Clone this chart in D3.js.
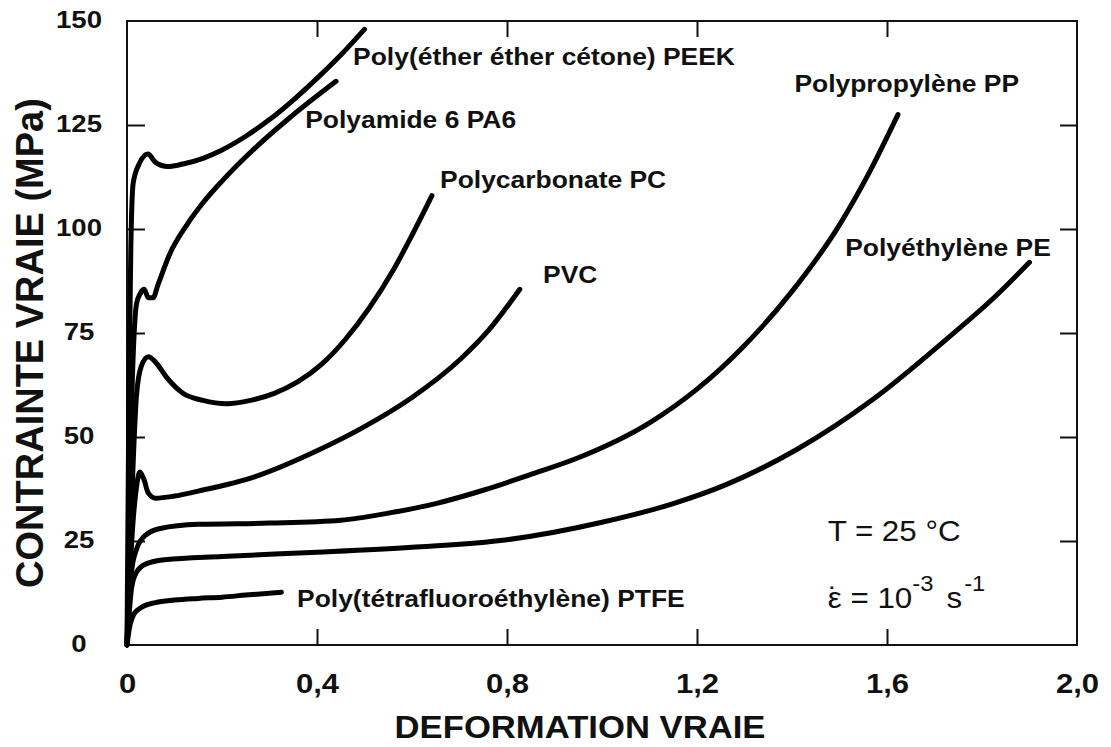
<!DOCTYPE html>
<html><head><meta charset="utf-8">
<script src="https://cdn.jsdelivr.net/npm/d3@7"></script>
<style>html,body{margin:0;padding:0;background:#fff;} svg{display:block;}</style>
</head><body>
<svg id="chart" width="1111" height="747"></svg>
<script>
// ---- tick values / labels ----
const xTickValues = [0, 0.4, 0.8, 1.2, 1.6, 2.0];
const xTickLabels = ["0", "0,4", "0,8", "1,2", "1,6", "2,0"];
const yTickValues = [0, 25, 50, 75, 100, 125, 150];
const yTickLabels = ["0", "25", "50", "75", "100", "125", "150"];

// ---- series: [true strain, true stress (MPa)] ----
const PEEK = [[0,0],[0.004,60],[0.008,95],[0.013,111],[0.025,115.5],[0.044,118],[0.06,116],[0.086,115],[0.12,115.7],[0.16,117],[0.2,119],[0.25,122.3],[0.3,126.3],[0.35,131],[0.4,136.2],[0.45,141.8],[0.5,148]];
const PA6 = [[0,0],[0.008,50],[0.02,82],[0.028,84.5],[0.036,85.5],[0.045,83.5],[0.055,83.5],[0.065,86.5],[0.09,94],[0.126,101],[0.16,106.3],[0.2,111.5],[0.27,119.5],[0.34,126.5],[0.44,135.5]];
const PC = [[0,0],[0.01,35],[0.02,60],[0.03,67],[0.045,69.3],[0.06,68],[0.083,64.4],[0.118,60.5],[0.16,58.8],[0.21,58],[0.26,58.8],[0.31,60.5],[0.36,63.3],[0.41,67.5],[0.46,73.5],[0.51,81],[0.56,90],[0.6,98.5],[0.642,108]];
const PVC = [[0,0],[0.01,25],[0.02,38],[0.027,41.6],[0.035,40],[0.045,36.5],[0.06,35.3],[0.1,35.8],[0.15,37],[0.27,40.5],[0.4,46.7],[0.5,52.5],[0.6,59.5],[0.7,68.5],[0.76,75.5],[0.827,85.5]];
const PP = [[0,0],[0.01,18],[0.02,23],[0.04,26.5],[0.07,28],[0.15,29],[0.3,29.3],[0.45,30],[0.55,31.7],[0.65,34],[0.75,37.2],[0.85,41],[0.95,45],[1.1,53.4],[1.2,61.5],[1.3,72],[1.4,85],[1.5,101],[1.56,113],[1.623,127.5]];
const PE = [[0,0],[0.01,14],[0.02,17.5],[0.04,19.5],[0.08,20.5],[0.2,21.3],[0.4,22.3],[0.6,23.5],[0.8,25.3],[1.0,29.5],[1.15,34],[1.26,38.5],[1.41,47],[1.57,59],[1.72,73],[1.83,84],[1.9,92]];
const PTFE = [[0,0],[0.005,4],[0.015,7.5],[0.03,9],[0.06,10.2],[0.1,10.8],[0.15,11.2],[0.2,11.5],[0.25,12],[0.325,12.7]];

const seriesList = [PEEK, PA6, PC, PVC, PP, PE, PTFE];
const seriesNames = ["Poly(éther éther cétone) PEEK", "Polyamide 6 PA6", "Polycarbonate PC", "PVC",
                     "Polypropylène PP", "Polyéthylène PE", "Poly(tétrafluoroéthylène) PTFE"];
// label anchor (left, baseline) in data units
const labelAnchors = [[0.476,139.4],[0.375,124.3],[0.659,109.9],[0.876,87],[1.405,132.9],[1.512,93.6],[0.358,9.1]];

const xTitle = "DEFORMATION VRAIE";
const yTitle = "CONTRAINTE VRAIE (MPa)";

// ---- layout ----
const W = 1111, H = 747;
const m = {left: 127, right: 34, top: 21, bottom: 102};
const SX = 1.15; // horizontal stretch of the original lettering
const FONT = "'Liberation Sans', Arial, Helvetica, sans-serif";

const svg = d3.select("#chart");
const x = d3.scaleLinear().domain([0, 2]).range([m.left, W - m.right]);
const y = d3.scaleLinear().domain([0, 150]).range([H - m.bottom, m.top]);

// frame
svg.append("rect").attr("x", x(0)).attr("y", y(150))
  .attr("width", x(2) - x(0)).attr("height", y(0) - y(150))
  .attr("fill", "none").attr("stroke", "#111").attr("stroke-width", 2);

const inner = [0.4, 0.8, 1.2, 1.6];
const innerY = [25, 50, 75, 100, 125];
const TL = 16;

// bottom axis with labels
const gB = svg.append("g").attr("transform", `translate(0,${y(0)})`)
  .call(d3.axisBottom(x).tickValues(xTickValues).tickSizeInner(-TL).tickSizeOuter(0)
    .tickFormat((d, i) => xTickLabels[i]));
gB.select(".domain").remove();
gB.selectAll(".tick line").attr("stroke", "#111").attr("stroke-width", 2)
  .attr("display", d => inner.includes(d) ? null : "none");
gB.selectAll(".tick text").attr("y", 0).attr("dy", 0)
  .attr("transform", "translate(0,48) scale(" + SX + ",1)")
  .attr("font-family", FONT).attr("font-weight", "bold").attr("font-size", 27).attr("fill", "#111");

// top ticks
const gT = svg.append("g").attr("transform", `translate(0,${y(150)})`)
  .call(d3.axisTop(x).tickValues(inner).tickSizeInner(-TL).tickSizeOuter(0).tickFormat(""));
gT.select(".domain").remove();
gT.selectAll(".tick line").attr("stroke", "#111").attr("stroke-width", 2);

// left axis with labels
const gL = svg.append("g").attr("transform", `translate(${x(0)},0)`)
  .call(d3.axisLeft(y).tickValues(yTickValues).tickSizeInner(-18).tickSizeOuter(0)
    .tickFormat((d, i) => yTickLabels[i]));
gL.select(".domain").remove();
gL.selectAll(".tick line").attr("stroke", "#111").attr("stroke-width", 2)
  .attr("display", d => innerY.includes(d) ? null : "none");
gL.selectAll(".tick text").attr("x", 0).attr("dy", 0).attr("text-anchor", "middle")
  .attr("transform", "translate(-48,6) scale(" + SX + ",1)")
  .attr("font-family", FONT).attr("font-weight", "bold").attr("font-size", 24).attr("fill", "#111");

// right ticks
const gR = svg.append("g").attr("transform", `translate(${x(2)},0)`)
  .call(d3.axisRight(y).tickValues(innerY).tickSizeInner(-17).tickSizeOuter(0).tickFormat(""));
gR.select(".domain").remove();
gR.selectAll(".tick line").attr("stroke", "#111").attr("stroke-width", 2);

// curves
const line = d3.line().x(d => x(d[0])).y(d => y(d[1])).curve(d3.curveMonotoneX);
svg.append("g").selectAll("path").data(seriesList).join("path")
  .attr("d", line).attr("fill", "none").attr("stroke", "#000")
  .attr("stroke-width", 5).attr("stroke-linecap", "round").attr("stroke-linejoin", "round");

// curve labels
svg.append("g").selectAll("text").data(seriesNames).join("text")
  .attr("transform", (d, i) => `translate(${x(labelAnchors[i][0])},${y(labelAnchors[i][1])}) scale(${SX},1)`)
  .attr("font-family", FONT).attr("font-weight", "bold").attr("font-size", 23).attr("fill", "#111")
  .text(d => d);

// conditions
svg.append("text").attr("transform", `translate(${x(1.475)},${y(25.1)}) scale(1.08,1)`)
  .attr("font-family", FONT).attr("font-size", 29).attr("fill", "#111")
  .text("T = 25 °C");
const rate = svg.append("text").attr("transform", `translate(${x(1.475)},${y(9)}) scale(1.08,1)`)
  .attr("font-family", FONT).attr("font-size", 29).attr("fill", "#111");
rate.append("tspan").text("ε");
rate.append("tspan").attr("dx", -12.5).text("\u02D9");
rate.append("tspan").attr("dx", 3).text(" = 10");
rate.append("tspan").attr("dy", -17).attr("font-size", 22).text("-3");
rate.append("tspan").attr("dy", 17).attr("dx", 4).text(" s");
rate.append("tspan").attr("dy", -17).attr("dx", 2).attr("font-size", 22).text("-1");

// axis titles
svg.append("text").attr("transform", `translate(580,738) scale(1.1,1)`)
  .attr("text-anchor", "middle").attr("font-family", FONT).attr("font-weight", "bold")
  .attr("font-size", 31.5).attr("fill", "#111").text(xTitle);
svg.append("text").attr("transform", `translate(43,${(y(0) + y(150)) / 2 + 10}) rotate(-90)`)
  .attr("text-anchor", "middle").attr("font-family", FONT).attr("font-weight", "bold")
  .attr("font-size", 38).attr("fill", "#111").text(yTitle);
</script>
</body></html>
